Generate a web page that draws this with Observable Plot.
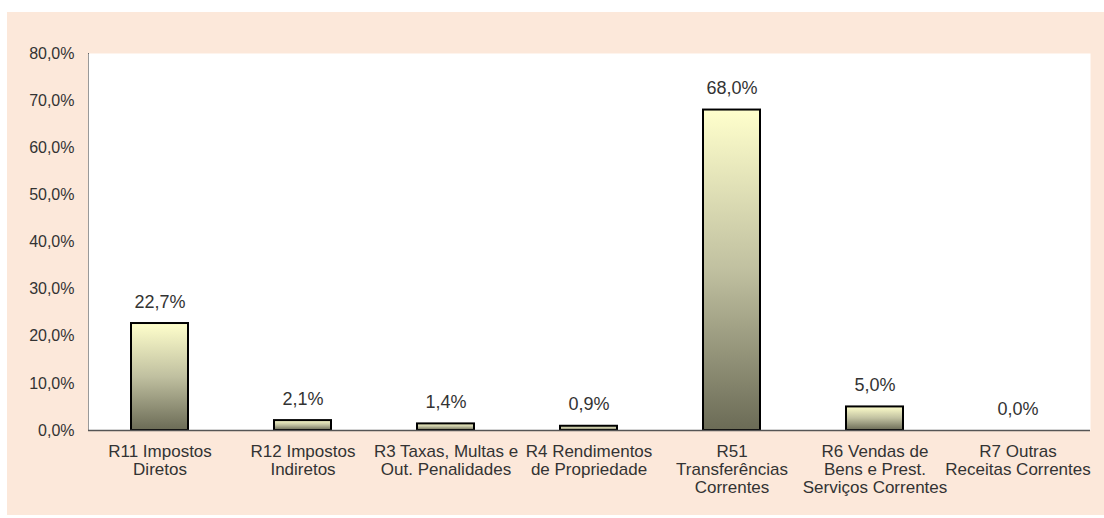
<!DOCTYPE html>
<html><head><meta charset="utf-8">
<script src="https://cdn.jsdelivr.net/npm/d3@7"></script>
<script src="https://cdn.jsdelivr.net/npm/@observablehq/plot@0.6"></script>
<style>
html,body{margin:0;padding:0;background:#fff;}
#wrap{position:absolute;left:7px;top:12px;width:1097px;height:503px;background:#fce8da;}
#wrap svg{display:block;}
</style></head><body><div id="wrap"></div>
<script>
const categories = ["R11","R12","R3","R4","R51","R6","R7"];
const labels = [
  "R11 Impostos\nDiretos",
  "R12 Impostos\nIndiretos",
  "R3 Taxas, Multas e\nOut. Penalidades",
  "R4 Rendimentos\nde Propriedade",
  "R51\nTransferências\nCorrentes",
  "R6 Vendas de\nBens e Prest.\nServiços Correntes",
  "R7 Outras\nReceitas Correntes"
];
const values = [22.7, 2.1, 1.4, 0.9, 68.0, 5.0, 0.0];
const yTicks = [0, 10, 20, 30, 40, 50, 60, 70, 80];

const fmt = d => d.toFixed(1).replace(".", ",") + "%";
const data = categories.map((c, i) => ({category: c, label: labels[i], value: values[i]}));

const chart = Plot.plot({
  width: 1097, height: 503,
  marginLeft: 81, marginTop: 41, marginRight: 14, marginBottom: 85,
  style: {background: "transparent", fontFamily: "'Liberation Sans', Arial, sans-serif", fontSize: "16px", color: "#333"},
  x: {domain: categories, paddingInner: 0.6, paddingOuter: 0.3, axis: null},
  y: {domain: [0, 80], ticks: yTicks, tickFormat: fmt, tickSize: 0, tickPadding: 14, label: null, line: true},
  marks: [
    Plot.frame({fill: "white", stroke: "none"}),
    Plot.barY(data, {x: "category", y: "value", fill: "url(#barGrad)", stroke: "black", strokeWidth: 2}),
    Plot.ruleY([0], {stroke: "#555", strokeWidth: 1.5}),
    Plot.text(data, {x: "category", y: "value", text: d => fmt(d.value), dy: -16, lineAnchor: "bottom", fontSize: 18, fill: "#333"}),
    Plot.text(data, {x: "category", frameAnchor: "bottom", text: "label", lineAnchor: "top", dy: 14, lineHeight: 1.05, fontSize: 17, fill: "#333"})
  ]
});

const svg = d3.select(chart.tagName.toLowerCase() === "svg" ? chart : chart.querySelector("svg"));
const grad = svg.insert("defs", ":first-child").append("linearGradient")
  .attr("id", "barGrad").attr("x1", 0).attr("y1", 0).attr("x2", 0).attr("y2", 1);
grad.append("stop").attr("offset", "0%").attr("stop-color", "#ffffcc");
grad.append("stop").attr("offset", "50%").attr("stop-color", "#c0c0a0");
grad.append("stop").attr("offset", "100%").attr("stop-color", "#6b6b56");
document.getElementById("wrap").appendChild(chart);
</script>
</body></html>
